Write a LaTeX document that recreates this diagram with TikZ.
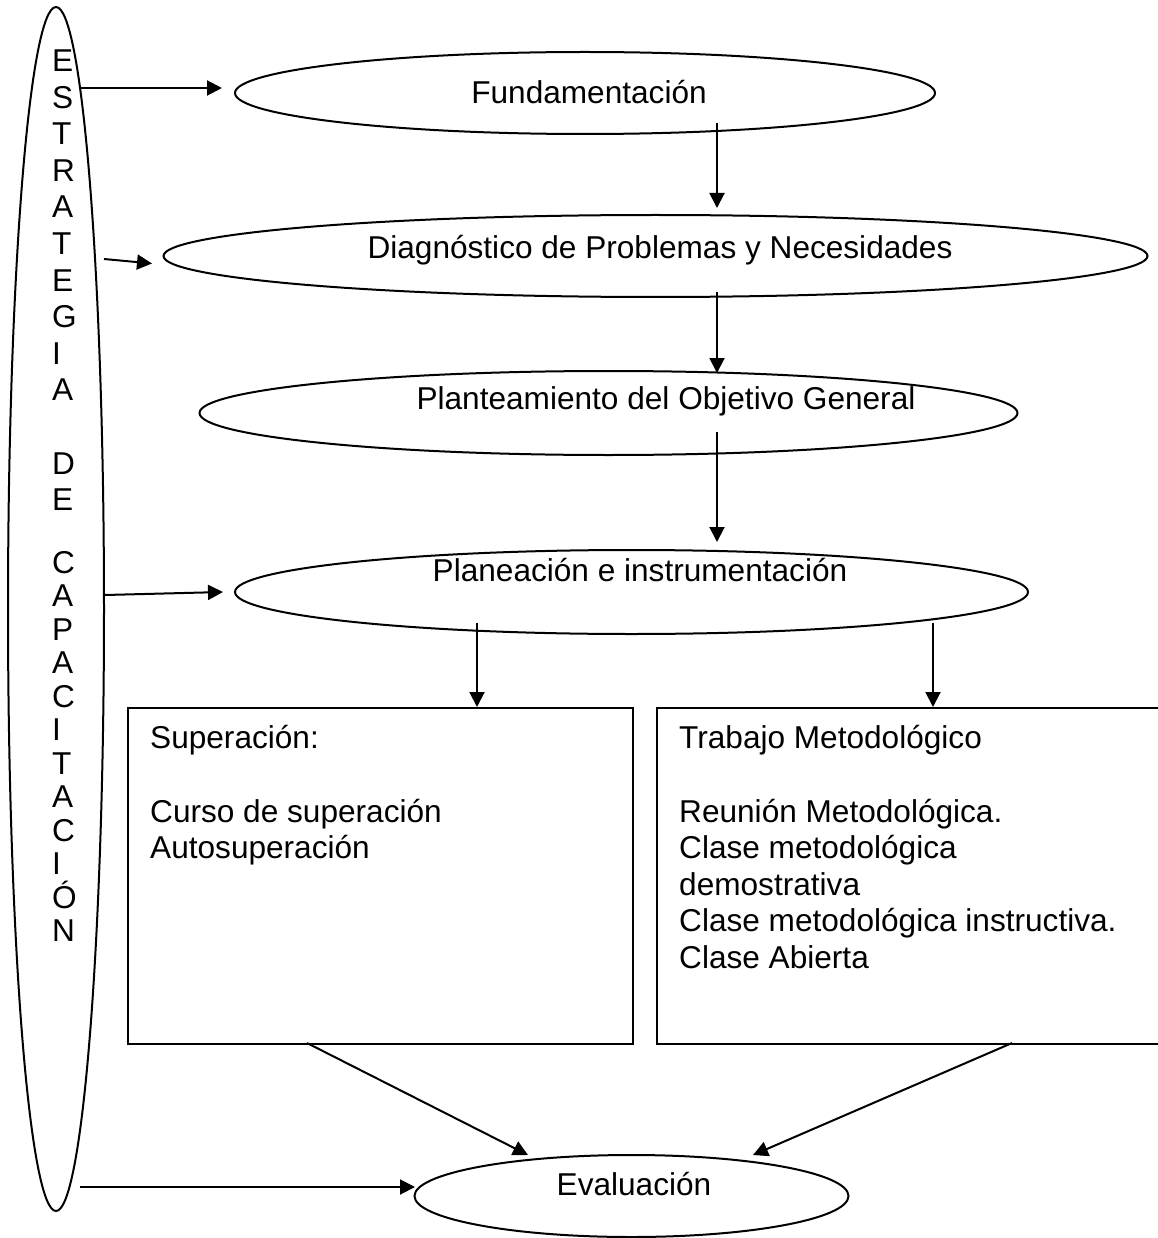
\documentclass[tikz,border=0pt]{standalone}
\usepackage{fontspec}
\setmainfont{Liberation Sans}
\usetikzlibrary{shapes.geometric,arrows.meta}
\begin{document}
\begin{tikzpicture}[x=1pt,y=-1pt,
  ell/.style={ellipse, draw, line width=2pt, inner sep=0pt},
  boxs/.style={draw, line width=2pt, inner sep=0pt, anchor=north west},
  arr/.style={line width=2pt, -{Triangle[length=15pt,width=15pt]}},
  txt/.style={font=\fontsize{31.6}{36.6}\selectfont, inner sep=0pt},
  vtxt/.style={font=\fontsize{31.6}{36.6}\selectfont, inner sep=0pt, anchor=base west}]
\useasboundingbox (0,0) rectangle (1157,1238);

% left tall ellipse
\node[ell, minimum width=96pt, minimum height=1204pt] (estr) at (56,609) {};
\foreach \ch [count=\i] in {E,S,T,R,A,T,E,G,I,A}
  \node[vtxt] (va\i) at (52,{71.5+36.6*(\i-1)}) {\ch};
\node[vtxt] (vd1) at (52,474) {D};
\node[vtxt] (vd2) at (52,510.5) {E};
\foreach \ch [count=\i] in {C,A,P,A,C,I,T,A,C,I,Ó,N}
  \node[vtxt] (vc\i) at (52,{573+33.5*(\i-1)}) {\ch};

% ellipses
\node[ell, minimum width=700pt, minimum height=82pt] (fund) at (585,93) {};
\node[txt, anchor=base] (tfund) at (589,104) {Fundamentación};
\node[ell, minimum width=984pt, minimum height=82pt] (diag) at (655.5,256) {};
\node[txt, anchor=base] (tdiag) at (660,259) {Diagnóstico de Problemas y Necesidades};
\node[ell, minimum width=818pt, minimum height=84pt] (plan) at (608.5,413) {};
\node[txt, anchor=base] (tplan) at (666,409) {Planteamiento del Objetivo General};
\node[ell, minimum width=793pt, minimum height=84pt] (pins) at (631.5,592) {};
\node[txt, anchor=base] (tpins) at (640,581) {Planeación e instrumentación};
\node[ell, minimum width=434pt, minimum height=82pt] (eval) at (631.5,1196) {};
\node[txt, anchor=base] (teval) at (634,1195) {Evaluación};

% boxes
\node[boxs, minimum width=505pt, minimum height=336pt] (bsup) at (127,707) {};
\node[boxs, minimum width=512pt, minimum height=336pt] (btrab) at (656,707) {};
\node[txt, anchor=base west] (s1) at (150,748) {Superación:};
\node[txt, anchor=base west] (s2) at (150,822) {Curso de superación};
\node[txt, anchor=base west] (s3) at (150,858.5) {Autosuperación};
\node[txt, anchor=base west] (t1) at (679,748) {Trabajo Metodológico};
\node[txt, anchor=base west] (t2) at (679,822) {Reunión Metodológica.};
\node[txt, anchor=base west] (t3) at (679,858.5) {Clase metodológica};
\node[txt, anchor=base west] (t4) at (679,895) {demostrativa};
\node[txt, anchor=base west] (t5) at (679,931.5) {Clase metodológica instructiva.};
\node[txt, anchor=base west] (t6) at (679,968) {Clase Abierta};

% arrow end points
\coordinate (e1s) at (81,88);   \coordinate (e1e) at (222,88);
\coordinate (e2s) at (104,259); \coordinate (e2e) at (152,263.5);
\coordinate (e3s) at (105,595); \coordinate (e3e) at (223,592);
\coordinate (e4s) at (80,1187); \coordinate (e4e) at (415,1187);
\coordinate (v1s) at (717,123); \coordinate (v1e) at (717,208);
\coordinate (v2s) at (717,292); \coordinate (v2e) at (717,373);
\coordinate (v3s) at (717,432); \coordinate (v3e) at (717,542);
\coordinate (v4s) at (477,623); \coordinate (v4e) at (477,707);
\coordinate (v5s) at (933,623); \coordinate (v5e) at (933,707);
\coordinate (d1s) at (307,1043); \coordinate (d1e) at (528,1155);
\coordinate (d2s) at (1012,1043); \coordinate (d2e) at (753,1155);

\draw[arr] (e1s) -- (e1e);
\draw[arr] (e2s) -- (e2e);
\draw[arr] (e3s) -- (e3e);
\draw[arr] (e4s) -- (e4e);
\draw[arr] (v1s) -- (v1e);
\draw[arr] (v2s) -- (v2e);
\draw[arr] (v3s) -- (v3e);
\draw[arr] (v4s) -- (v4e);
\draw[arr] (v5s) -- (v5e);
\draw[arr] (d1s) -- (d1e);
\draw[arr] (d2s) -- (d2e);
\end{tikzpicture}
\end{document}
